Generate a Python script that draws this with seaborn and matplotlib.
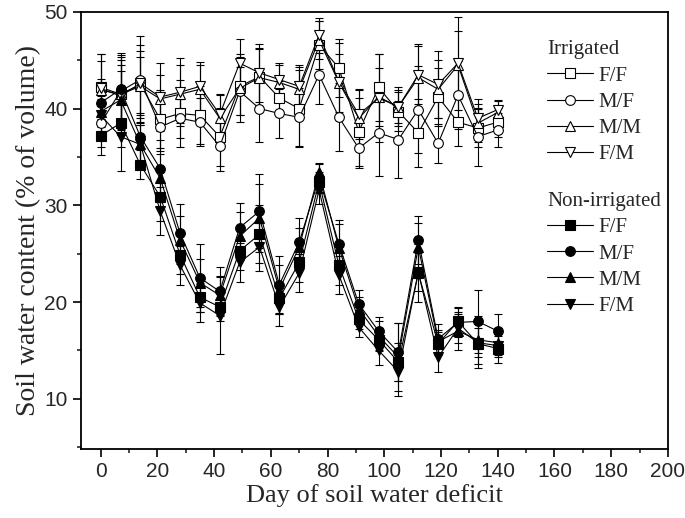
import pandas as pd
import matplotlib
matplotlib.use('Agg')
import matplotlib.pyplot as plt
import matplotlib.ticker as ticker
from matplotlib.lines import Line2D
import seaborn as sns

# Días de déficit hídrico
dias = [0, 7, 14, 21, 28, 35, 42, 49, 56, 63, 70, 77, 84, 91, 98, 105, 112, 119, 126, 133, 140]

# Regado
reg_ff = [42.2, 41.5, 42.5, 38.9, 39.5, 39.3, 37.1, 42.3, 43.3, 41.1, 40.0, 46.6, 44.2, 37.6, 42.2, 39.7, 37.5, 41.2, 38.6, 38.0, 38.6]
reg_ff_err = [3.5, 3.0, 3.5, 3.0, 3.5, 3.0, 3.0, 3.0, 3.0, 1.8, 4.0, 2.5, 3.0, 3.5, 3.5, 2.0, 3.5, 3.0, 2.5, 2.0, 1.5]
reg_mf = [38.5, 41.8, 43.0, 38.1, 39.0, 38.6, 36.1, 41.8, 40.0, 39.5, 39.1, 43.5, 39.1, 35.9, 37.5, 36.8, 39.9, 36.4, 41.4, 37.1, 37.8]
reg_mf_err = [2.5, 4.0, 4.5, 2.5, 2.0, 2.5, 2.5, 2.5, 3.5, 2.5, 3.0, 3.0, 3.5, 2.0, 4.5, 4.0, 4.5, 2.0, 3.5, 3.0, 1.8]
reg_mm = [41.9, 41.5, 42.3, 41.0, 41.5, 42.0, 39.0, 42.1, 43.2, 42.7, 42.0, 47.1, 42.7, 39.0, 41.2, 40.2, 43.2, 42.0, 44.5, 38.5, 39.6]
reg_mm_err = [3.0, 3.5, 3.0, 2.5, 3.0, 2.5, 2.5, 3.5, 3.0, 2.0, 2.5, 2.0, 3.0, 3.0, 3.0, 2.0, 3.5, 3.0, 3.5, 2.0, 1.2]
reg_fm = [42.1, 41.3, 42.6, 41.2, 41.7, 42.3, 39.4, 44.7, 43.7, 43.0, 42.3, 47.6, 42.8, 39.4, 41.1, 40.2, 43.5, 42.5, 44.7, 39.0, 39.9]
reg_fm_err = [3.5, 4.0, 4.0, 3.5, 3.5, 2.5, 2.0, 2.5, 3.0, 1.5, 2.0, 1.8, 4.0, 2.5, 4.5, 1.7, 3.0, 3.5, 4.8, 2.0, 1.0]

# No regado
seco_ff = [37.2, 38.5, 34.2, 30.9, 24.9, 20.5, 19.5, 25.3, 27.0, 20.4, 24.1, 32.4, 23.8, 18.2, 16.1, 13.8, 23.0, 15.7, 18.0, 15.7, 15.2]
seco_ff_err = [2.0, 2.5, 1.5, 2.5, 2.0, 1.5, 1.5, 2.0, 3.0, 1.5, 2.0, 1.0, 2.0, 1.0, 1.2, 2.0, 3.0, 1.2, 1.5, 2.5, 1.5]
seco_mf = [40.6, 42.0, 37.1, 33.8, 27.1, 22.5, 21.1, 27.7, 29.4, 21.8, 26.2, 32.8, 26.0, 19.8, 17.0, 14.8, 26.4, 16.2, 17.9, 18.0, 17.0]
seco_mf_err = [2.5, 3.5, 2.5, 3.0, 3.0, 3.5, 2.5, 2.5, 3.8, 3.0, 2.5, 1.5, 2.5, 1.5, 1.5, 3.0, 2.5, 1.5, 1.5, 3.3, 1.8]
seco_mm = [39.7, 40.9, 36.3, 32.8, 26.4, 22.0, 20.7, 26.8, 28.7, 21.3, 25.7, 33.4, 25.6, 19.3, 16.5, 14.3, 25.7, 15.9, 17.0, 16.1, 15.8]
seco_mm_err = [2.0, 3.0, 2.0, 2.5, 2.5, 2.5, 2.0, 2.5, 3.5, 2.5, 2.0, 1.0, 2.5, 1.2, 1.5, 3.5, 2.5, 1.2, 2.0, 2.5, 1.5]
seco_fm = [39.3, 37.1, 36.3, 29.4, 23.8, 19.9, 18.6, 24.1, 25.7, 19.5, 23.0, 31.6, 22.8, 17.4, 15.0, 12.8, 23.1, 14.3, 17.3, 15.8, 15.5]
seco_fm_err = [2.0, 3.5, 2.0, 2.5, 2.0, 2.0, 4.0, 2.0, 2.5, 2.0, 2.0, 1.5, 2.0, 1.0, 1.5, 2.5, 2.0, 1.5, 1.5, 1.5, 1.0]

etiquetas = ['F/F', 'M/F', 'M/M', 'F/M']
marcadores = ['s', 'o', '^', 'v']

sns.set_style('ticks')
plt.rcParams['font.family'] = ['Liberation Sans', 'DejaVu Sans']

fig, eje = plt.subplots(figsize=(6.85, 5.18), dpi=100)
fig.subplots_adjust(left=0.118, right=0.975, bottom=0.133, top=0.977)

series = [
    ('Regado', reg_ff, reg_ff_err, 0), ('Regado', reg_mf, reg_mf_err, 1),
    ('Regado', reg_mm, reg_mm_err, 2), ('Regado', reg_fm, reg_fm_err, 3),
    ('Seco', seco_ff, seco_ff_err, 0), ('Seco', seco_mf, seco_mf_err, 1),
    ('Seco', seco_mm, seco_mm_err, 2), ('Seco', seco_fm, seco_fm_err, 3),
]

for grupo, valores, errores, i in series:
    relleno = 'white' if grupo == 'Regado' else 'black'
    eje.errorbar(dias, valores, yerr=errores, fmt='none', ecolor='black',
                 elinewidth=0.8, capsize=3, capthick=0.8, zorder=2)
    df = pd.DataFrame({'dia': dias, 'valor': valores})
    sns.lineplot(data=df, x='dia', y='valor', ax=eje, color='black', linewidth=0.8,
                 marker=marcadores[i], markersize=7, markerfacecolor=relleno,
                 markeredgecolor='black', markeredgewidth=0.8, zorder=3)

eje.set_xlim(-7, 200)
eje.set_ylim(4.8, 50)
eje.xaxis.set_major_locator(ticker.MultipleLocator(20))
eje.xaxis.set_minor_locator(ticker.MultipleLocator(10))
eje.yaxis.set_major_locator(ticker.MultipleLocator(10))
eje.yaxis.set_minor_locator(ticker.MultipleLocator(5))
eje.tick_params(axis='both', which='major', direction='out', length=6, width=1.2,
                labelsize=15, color='black')
eje.tick_params(axis='both', which='minor', direction='out', length=3, width=1.2)
for lado in eje.spines.values():
    lado.set_linewidth(1.3)
    lado.set_color('black')

eje.set_xlabel('Day of soil water deficit', family='Liberation Serif', fontsize=19, labelpad=2)
eje.set_ylabel('Soil water content (% of volume)', family='Liberation Serif', fontsize=20, labelpad=2)

fuente_leyenda = {'family': 'Liberation Serif', 'size': 15}


def hacer_manejadores(relleno):
    return [Line2D([0], [0], color='black', linewidth=0.8, marker=m, markersize=7,
                   markerfacecolor=relleno, markeredgecolor='black', markeredgewidth=0.8)
            for m in marcadores]


ley1 = eje.legend(hacer_manejadores('white'), etiquetas, title='Irrigated', loc='upper left',
                  bbox_to_anchor=(0.794, 0.935), frameon=False, prop=fuente_leyenda,
                  title_fontproperties=fuente_leyenda, alignment='left',
                  handlelength=2.2, handletextpad=0.25, labelspacing=0.32, borderpad=0,
                  borderaxespad=0)
eje.add_artist(ley1)
eje.legend(hacer_manejadores('black'), etiquetas, title='Non-irrigated', loc='upper left',
           bbox_to_anchor=(0.794, 0.588), frameon=False, prop=fuente_leyenda,
           title_fontproperties=fuente_leyenda, alignment='left',
           handlelength=2.2, handletextpad=0.25, labelspacing=0.32, borderpad=0,
           borderaxespad=0)

plt.savefig('out.png', dpi=100)
